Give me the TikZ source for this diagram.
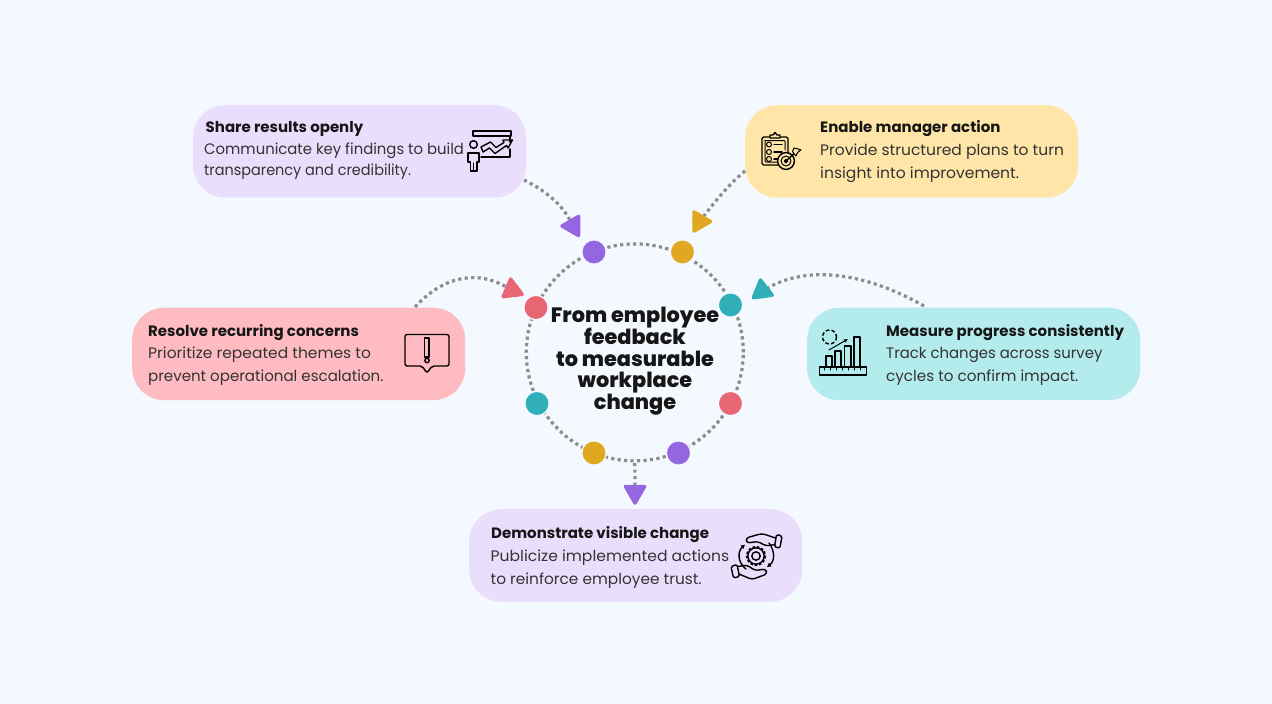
\documentclass[tikz,border=0pt]{standalone}
\usepackage{fontspec}
\setmainfont{Poppins}
\newfontfamily\xb{Poppins ExtraBold}
\usetikzlibrary{shapes.geometric,arrows.meta}
\definecolor{pagebg}{HTML}{F4F8FF}
\definecolor{lav}{HTML}{E9DFFC}
\definecolor{sand}{HTML}{FFE6A8}
\definecolor{aqua}{HTML}{B4ECEE}
\definecolor{rose}{HTML}{FFBBC2}
\definecolor{cpurple}{HTML}{9466E0}
\definecolor{cgold}{HTML}{E0A820}
\definecolor{cteal}{HTML}{30AFB8}
\definecolor{cred}{HTML}{E96675}
\definecolor{dotgray}{HTML}{8C8C8C}
\definecolor{ink}{HTML}{161616}
\definecolor{bodyink}{HTML}{333333}
\tikzset{
  x=1pt,y=-1pt,
  card/.style={rectangle,rounded corners=32pt,minimum width=333pt,minimum height=92.5pt,inner sep=0pt,anchor=north west,fill=#1},
  ball/.style={circle,minimum size=24.5pt,inner sep=0pt,fill=#1,draw=pagebg,line width=1.4pt},
  tip/.style={regular polygon,regular polygon sides=3,minimum size=27pt,inner sep=0pt,fill=#1,draw=#1,line width=1pt,line join=round,rounded corners=2.5pt},
  dotline/.style={draw=dotgray,line width=3.2pt,dash pattern=on 3.2pt off 3.3pt},
  head/.style={anchor=base west,inner sep=0pt,text=ink,font=\fontsize{15}{17}\selectfont\bfseries},
  body/.style={anchor=base west,inner sep=0pt,text=bodyink,font=\fontsize{15.2}{18}\selectfont,transform shape},
  ttl/.style={anchor=base,inner sep=0pt,text=ink,font=\fontsize{20.8}{24}\selectfont\xb},
  ico/.style={draw=black,line width=1.4pt,line join=round,line cap=round},
  icothin/.style={draw=black,line width=1pt,line join=round,line cap=round}
}
\begin{document}
\begin{tikzpicture}
\useasboundingbox (0,0) rectangle (1272,704);
\fill[pagebg] (0,0) rectangle (1272,704);

% cards
\node[card=lav]  (share)   at (193,105) {};
\node[card=sand] (enable)  at (745,105) {};
\node[card=aqua] (measure) at (807,307.5) {};
\node[card=rose] (resolve) at (132,307.5) {};
\node[card=lav]  (demo)    at (469,509) {};

% ring
\node[circle,minimum size=217pt,inner sep=0pt,dotline] (ring) at (634.8,352.4) {};

% ring dots
\node[ball=cpurple] (d1) at (594,252) {};
\node[ball=cgold]   (d2) at (682.5,252) {};
\node[ball=cteal]   (d3) at (730.5,305) {};
\node[ball=cred]    (d4) at (730.5,403.5) {};
\node[ball=cpurple] (d5) at (678.5,453) {};
\node[ball=cgold]   (d6) at (594,453) {};
\node[ball=cteal]   (d7) at (537,403.5) {};
\node[ball=cred]    (d8) at (536,307.5) {};

% arrow tips
\node[tip=cpurple,shape border rotate=90] (t1) at (573,226) {};
\node[tip=cgold,shape border rotate=-90] (t2) at (699.5,221.5) {};
\node[tip=cteal,shape border rotate=8] (t3) at (762,291) {};
\node[tip=cred,shape border rotate=7] (t4) at (512,290) {};
\node[tip=cpurple,shape border rotate=180] (t5) at (635,492) {};

% connector free ends
\coordinate (s1) at (524,180);
\coordinate (s2) at (745,171);
\coordinate (s3) at (924,306);
\coordinate (s4) at (415,307);
\coordinate (s5) at (634.8,463);

\draw[dotline] (s1) .. controls (545,190) and (562,205) .. (t1);
\draw[dotline] (s2) .. controls (728,185) and (714,203) .. (t2);
\draw[dotline] (s3) .. controls (875,278) and (815,262) .. (t3);
\draw[dotline] (s4) .. controls (440,280) and (472,268) .. (t4);
\draw[dotline] (s5) -- (t5);

% title
\node[ttl] (tt1) at (635,322) {From employee};
\node[ttl] (tt2) at (635,344) {feedback};
\node[ttl] (tt3) at (635,366) {to measurable};
\node[ttl] (tt4) at (635,387.5) {workplace};
\node[ttl] (tt5) at (635,409.5) {change};

% card texts
\node[head] (a0) at (205.5,132) {Share results openly};
\node[body,xscale=.977] (a1) at (204,154) {Communicate key findings to build};
\node[body,xscale=.95] (a2) at (204,175) {transparency and credibility.};

\node[head] (b0) at (820,132) {Enable manager action};
\node[body,xscale=1.02] (b1) at (820,155) {Provide structured plans to turn};
\node[body,xscale=1.025] (b2) at (820,178) {insight into improvement.};

\node[head] (c0) at (886,336) {Measure progress consistently};
\node[body,xscale=.98] (c1) at (886,358) {Track changes across survey};
\node[body] (c2) at (886,381) {cycles to confirm impact.};

\node[head] (e0) at (148,336) {Resolve recurring concerns};
\node[body,xscale=1.02] (e1) at (148,358) {Prioritize repeated themes to};
\node[body,xscale=.99] (e2) at (148,381) {prevent operational escalation.};

\node[head] (f0) at (491,538) {Demonstrate visible change};
\node[body,xscale=1.025] (f1) at (490.5,561) {Publicize implemented actions};
\node[body,xscale=1.01] (f2) at (490.5,584) {to reinforce employee trust.};

% icon: presentation
\draw[ico] (473,131) rectangle (511,136);
\draw[ico] (510,136) -- (510,142);
\draw[ico] (510,149) -- (510,157) -- (481,157);
\draw[ico] (473.5,144.5) circle (3.8);
\draw[ico,line width=1.6pt] (468,153) -- (468,162) -- (470.5,162) -- (470.5,171) -- (477,171) -- (477,162) -- (479,162) -- (479,153) -- cycle;
\draw[ico] (473.7,163) -- (473.7,171);
\draw[ico] (481,147) -- (490.5,142) -- (496,147.5) -- (504,142.5) -- (503,140) -- (512.5,140) -- (508,148) -- (506.5,145.5) -- (495,153.5) -- (489.5,148) -- (483,152) -- cycle;

% icon: clipboard and target
\draw[ico,rounded corners=1.5pt] (762,137) rectangle (788,165);
\draw[icothin,rounded corners=1pt] (765,140.5) -- (785,140.5) -- (785,150);
\draw[icothin,rounded corners=1pt] (765,140.5) -- (765,162) -- (778,162);
\draw[ico,fill=sand] (770,138) -- (770,135) -- (773,135) -- (775,132.5) -- (777,135) -- (780,135) -- (780,138) -- cycle;
\foreach \yy in {144.5,152,159}{
  \draw[icothin] (769,\yy) circle (2.5);
  \draw[ico] (774,\yy) -- (782,\yy);
}
\draw[ico,fill=sand] (786,161) circle (8.4);
\draw[icothin] (786,161) circle (5);
\draw[icothin,fill=black] (786,161) circle (1.8);
\draw[ico] (786,161) -- (797,151);
\draw[icothin,fill=sand] (794,148) -- (798,149) -- (801,150) -- (797.5,152.5) -- (796,156) -- (793.5,153) -- (792.5,151.5) -- cycle;

% icon: chart
\draw[ico] (819.5,367) rectangle (866.5,375);
\foreach \xx in {824,830,836,842,848,854,860}{\draw[icothin] (\xx,367) -- (\xx,370);}
\draw[ico] (826,367) -- (826,356) -- (832,356) -- (832,367);
\draw[ico] (835,367) -- (835,351) -- (841,351) -- (841,367);
\draw[ico] (844.5,367) -- (844.5,346) -- (851,346) -- (851,367);
\draw[ico] (854,367) -- (854,337) -- (860,337) -- (860,367);
\draw[icothin,-{Latex[length=4pt,width=4pt]}] (829,350) -- (848,339);
\draw[ico,dash pattern=on 3.6pt off 2.2pt,line cap=butt] (829.5,337) circle (7);

% icon: alert bubble
\draw[ico,rounded corners=2pt] (427,373) -- (422,366) -- (405,366) -- (405,334.5) -- (449,334.5) -- (449,366) -- (432,366) -- cycle;
\draw[ico] (424.5,338) rectangle (429,357);
\draw[ico] (427,360.5) circle (2.2);

% icon: hands and gear
\draw[line width=2.4pt,dash pattern=on 2.4pt off 1.85pt] (756,556) circle (8.9);
\draw[ico] (756,556) circle (8.2);
\draw[ico,fill=lav] (756,556) circle (4.2);
\draw[ico,-{Latex[length=4pt,width=5pt]}] (746,569) .. controls (738,563) and (737,552) .. (745,544.5);
\draw[ico,-{Latex[length=4pt,width=5pt]}] (769,543) .. controls (775,551) and (775,561) .. (767,567);
\draw[ico,rounded corners=1.5pt] (776.5,534.5) -- (782,536) -- (780,548) -- (774.5,547) -- cycle;
\draw[ico,rounded corners=3pt] (775.5,538) -- (762,533.5) -- (746,538) -- (746.5,543) -- (758,541.5) -- (766,546) -- (775,544.5);
\draw[ico,rounded corners=1.5pt] (731,566.5) -- (737,564.5) -- (739.5,576.5) -- (733.5,578) -- cycle;
\draw[ico,rounded corners=3pt] (738,566.5) -- (747,565) -- (755,570.5) -- (766,569) -- (767,574) -- (752,579.5) -- (739,574);
\end{tikzpicture}
\end{document}
